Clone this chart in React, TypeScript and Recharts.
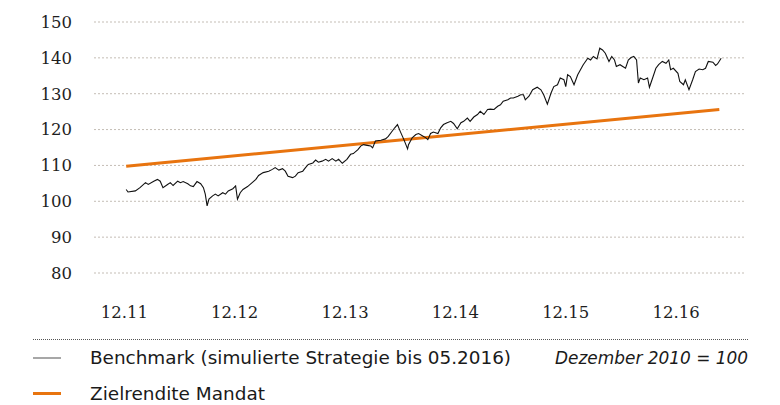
import React from 'react';
import { LineChart, Line, XAxis, YAxis, CartesianGrid } from 'recharts';

// months since December 2010 (12 = 12.11)
const benchmarkMonths = [
  12.2, 12.4, 13.2, 13.7, 14.3, 14.6, 15.2, 15.6, 15.9, 16.2, 16.7, 17.0, 17.3, 17.8, 18.1, 18.4, 18.9, 19.2, 19.5, 19.9,
  20.3, 20.6, 20.8, 21.0, 21.2, 21.6, 21.9, 22.2, 22.7, 23.0, 23.3, 23.8, 24.1, 24.3, 24.6, 24.9, 25.4, 25.9, 26.3, 26.6,
  27.1, 27.7, 28.1, 28.4, 28.8, 29.2, 29.5, 29.8, 30.3, 30.6, 30.9, 31.4, 31.7, 32.0, 32.5, 32.8, 33.1, 33.5, 33.9, 34.2,
  34.6, 35.0, 35.3, 35.7, 36.2, 36.6, 36.9, 37.4, 37.7, 38.0, 38.4, 38.8, 39.0, 39.3, 39.9, 40.4, 40.7, 41.2, 41.4, 41.7,
  42.0, 42.4, 42.8, 42.9, 43.3, 43.7, 44.0, 44.4, 44.8, 45.0, 45.3, 45.6, 46.1, 46.4, 46.7, 47.1, 47.5, 47.8, 48.2, 48.6,
  48.9, 49.3, 49.6, 50.0, 50.4, 50.7, 51.1, 51.5, 51.8, 52.2, 52.6, 52.9, 53.2, 53.7, 54.0, 54.3, 54.8, 55.1, 55.4, 55.6,
  56.0, 56.4, 56.9, 57.3, 57.6, 58.0, 58.4, 58.7, 59.1, 59.4, 59.8, 60.0, 60.2, 60.5, 60.9, 61.3, 61.6, 61.9, 62.4, 62.7,
  63.0, 63.4, 63.7, 64.0, 64.3, 64.7, 65.0, 65.3, 65.5, 65.9, 66.2, 66.5, 66.8, 67.1, 67.4, 67.7, 67.9, 68.1, 68.5, 68.9,
  69.1, 69.5, 69.8, 70.1, 70.5, 70.9, 71.2, 71.4, 71.7, 72.2, 72.4, 72.8, 73.0, 73.4, 73.8, 74.1, 74.5, 74.9, 75.2, 75.5,
  76.0, 76.3, 76.5, 76.9,
];

const benchmarkValues = [
  103.3, 102.6, 102.9, 103.8, 105.2, 104.7, 105.6, 106.1, 105.6, 103.8, 104.7, 105.2, 104.4, 105.6, 105.2, 105.5, 104.9, 104.3, 104.1, 105.5,
  104.9, 103.8, 102.0, 98.7, 100.6, 101.5, 102.0, 101.5, 102.4, 102.0, 102.9, 103.5, 104.3, 100.6, 102.4, 103.3, 104.1, 105.2, 106.1, 107.2,
  108.0, 108.4, 108.9, 109.4, 108.7, 109.1, 108.4, 107.0, 106.6, 107.0, 108.0, 108.4, 109.4, 110.3, 110.7, 111.5, 110.9, 111.2, 111.7, 111.2,
  111.9, 111.2, 111.7, 110.6, 111.7, 113.1, 113.3, 114.4, 115.4, 115.8, 115.6, 115.4, 114.9, 116.8, 117.0, 117.4, 118.1, 119.8, 120.5, 121.4,
  119.5, 117.2, 114.6, 115.8, 117.7, 118.6, 118.9, 118.3, 117.7, 117.2, 118.9, 119.3, 118.9, 120.5, 121.4, 121.9, 122.3, 121.7, 120.2, 121.9,
  122.3, 123.2, 122.3, 123.5, 124.2, 125.1, 124.2, 125.6, 125.7, 125.6, 126.5, 126.9, 127.9, 128.3, 128.8, 128.8, 129.3, 129.7, 129.7, 128.3,
  129.3, 131.1, 131.8, 131.1, 129.7, 127.1, 130.2, 132.0, 132.5, 134.4, 133.9, 132.0, 135.3, 134.8, 132.5, 135.3, 136.7, 138.1, 139.9, 139.4,
  140.4, 139.7, 142.7, 142.2, 141.3, 139.0, 140.4, 139.4, 137.6, 138.1, 137.6, 137.1, 139.4, 140.1, 140.4, 139.4, 133.0, 134.4, 133.9, 134.4,
  131.8, 134.8, 137.1, 138.1, 139.0, 138.5, 139.4, 136.7, 137.1, 135.7, 133.4, 132.5, 133.9, 131.1, 133.9, 136.2, 136.9, 136.7, 137.1, 139.0,
  138.8, 137.9, 138.3, 139.9,
];

const targetMonths = [12.2, 76.7];
const targetValues = [109.8, 125.6];

const xTicks = [12, 24, 36, 48, 60, 72];
const xTickLabels = ['12.11', '12.12', '12.13', '12.14', '12.15', '12.16'];
const yTicks = [80, 90, 100, 110, 120, 130, 140, 150];

const benchmarkLabel = 'Benchmark (simulierte Strategie bis 05.2016)';
const targetLabel = 'Zielrendite Mandat';
const baseNote = 'Dezember 2010 = 100';

const benchmarkData = benchmarkMonths.map((m, i) => ({ m, v: benchmarkValues[i] }));
const targetData = targetMonths.map((m, i) => ({ m, v: targetValues[i] }));

const tickFont = { fill: '#1e1e1e', fontSize: 16.5, fontFamily: 'DejaVu Serif' };
const legendFamily = '"DejaVu Sans Condensed", "DejaVu Sans", sans-serif';

export default function App() {
  return (
    <div style={{ position: 'absolute', left: 0, top: 0, width: 780, height: 405, background: '#fff' }}>
      <LineChart width={780} height={330} margin={{ top: 22, right: 34, bottom: 17, left: 0 }}>
        <CartesianGrid vertical={false} stroke="#c4bdb5" strokeDasharray="2 2" />
        <XAxis
          type="number"
          dataKey="m"
          domain={[8.7, 79.6]}
          ticks={xTicks}
          tickFormatter={(v: number) => xTickLabels[xTicks.indexOf(v)] ?? ''}
          axisLine={false}
          tickLine={false}
          tickSize={0}
          tickMargin={33}
          height={40}
          tick={tickFont}
          allowDataOverflow
        />
        <YAxis
          type="number"
          domain={[80, 150]}
          ticks={yTicks}
          width={94}
          axisLine={false}
          tickLine={false}
          tickSize={0}
          tickMargin={22}
          tick={tickFont}
          allowDataOverflow
        />
        <Line data={targetData} dataKey="v" stroke="#e8740f" strokeWidth={3} dot={false} isAnimationActive={false} />
        <Line data={benchmarkData} dataKey="v" stroke="#111" strokeWidth={1.1} dot={false} isAnimationActive={false} />
      </LineChart>
      <svg width={780} height={75} style={{ position: 'absolute', left: 0, top: 330 }}>
        <line x1={33} x2={748} y1={9.5} y2={9.5} stroke="#555" strokeWidth={1} strokeDasharray="1 1" />
        <line x1={33} x2={61} y1={28} y2={28} stroke="#8a8a8a" strokeWidth={1.5} />
        <text x={90} y={34} fontFamily={legendFamily} fontSize={18.5} fill="#1a1a1a" textLength={421} lengthAdjust="spacingAndGlyphs">
          {benchmarkLabel}
        </text>
        <text x={555} y={34} fontFamily={legendFamily} fontStyle="italic" fontSize={18.5} fill="#1a1a1a" textLength={193} lengthAdjust="spacingAndGlyphs">
          {baseNote}
        </text>
        <line x1={33} x2={61} y1={63.5} y2={63.5} stroke="#e8740f" strokeWidth={3} />
        <text x={90} y={70} fontFamily={legendFamily} fontSize={18.5} fill="#1a1a1a" textLength={175} lengthAdjust="spacingAndGlyphs">
          {targetLabel}
        </text>
      </svg>
    </div>
  );
}
